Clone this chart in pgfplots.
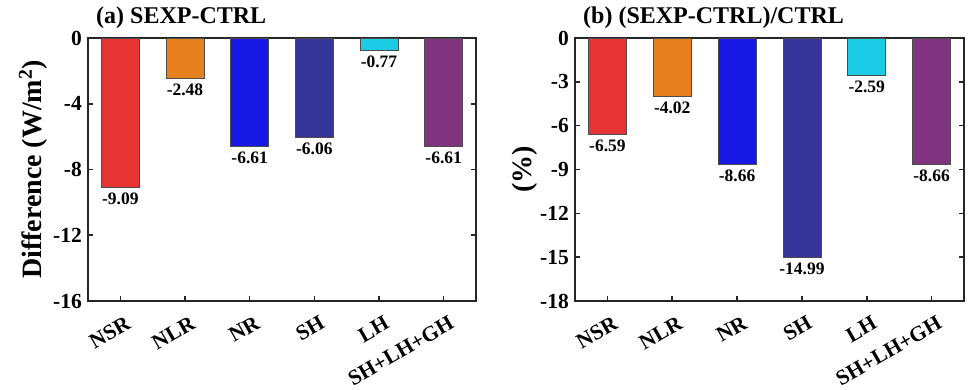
\documentclass[border=0pt]{standalone}
\usepackage{fontspec}
\setmainfont{Liberation Serif}
\usepackage{pgfplots}
\pgfplotsset{compat=1.18}
\definecolor{cA}{HTML}{E63434}
\definecolor{cB}{HTML}{E6801E}
\definecolor{cC}{HTML}{1919E6}
\definecolor{cD}{HTML}{343499}
\definecolor{cE}{HTML}{1CCCE6}
\definecolor{cF}{HTML}{80337F}
\definecolor{axc}{HTML}{262626}
\pgfplotsset{
  mybar/.style={
    scale only axis, height=263pt,
    ybar, bar width=38pt, bar shift=0pt,
    xmin=-0.5, xmax=5.5, xtick={0,1,2,3,4,5},
    xticklabels={NSR,NLR,NR,SH,LH,SH+LH+GH},
    xtick pos=bottom, ytick pos=both, tick align=inside,
    major tick length=5pt,
    axis line style={line width=1.6pt, color=axc},
    every tick/.style={line width=1.6pt, color=axc},
    /pgf/number format/assume math mode=true,
    tick label style={font=\fontsize{21.5}{24}\selectfont\bfseries, color=black},
    xticklabel style={inner sep=0pt, xshift=4.5pt, yshift=-14pt, rotate=30, anchor=north east},
    yticklabel style={inner sep=0pt, xshift=-6pt},
    title style={at={(axis description cs:0,1)}, anchor=base west, xshift=8pt, yshift=9pt, inner sep=0pt, font=\fontsize{24}{28}\selectfont\bfseries},
    ylabel style={anchor=center, font=\fontsize{28}{32}\selectfont\bfseries},
    every axis plot/.append style={draw=black!70, line width=0.8pt},
    nodes near coords={\pgfmathprintnumber[fixed,fixed zerofill,precision=2,assume math mode=true]{\pgfplotspointmeta}},
    every node near coord/.append style={font=\fontsize{17.5}{20}\selectfont\bfseries, anchor=north, inner sep=0pt, yshift=-5pt, text=black},
  }
}
\begin{document}
\begin{tikzpicture}
\useasboundingbox (0,0) rectangle (969pt,389pt);
\begin{axis}[mybar, at={(88pt,88pt)}, anchor=south west, width=388pt,
  ymin=-16, ymax=0, ytick={-16,-12,-8,-4,0},
  title={(a) SEXP-CTRL},
  ylabel={Difference (W/m\textsuperscript{2})},
  ylabel style={at={(axis description cs:-0.1418,0.5)}}]
\addplot[fill=cA] coordinates {(0,-9.09)};
\addplot[fill=cB] coordinates {(1,-2.48)};
\addplot[fill=cC] coordinates {(2,-6.61)};
\addplot[fill=cD] coordinates {(3,-6.06)};
\addplot[fill=cE] coordinates {(4,-0.77)};
\addplot[fill=cF] coordinates {(5,-6.61)};
\end{axis}
\begin{axis}[mybar, at={(575pt,88pt)}, anchor=south west, width=389pt,
  ymin=-18, ymax=0, ytick={-18,-15,-12,-9,-6,-3,0},
  title={(b) (SEXP-CTRL)/CTRL},
  ylabel={(\%)},
  ylabel style={at={(axis description cs:-0.1285,0.5)}}]
\addplot[fill=cA] coordinates {(0,-6.59)};
\addplot[fill=cB] coordinates {(1,-4.02)};
\addplot[fill=cC] coordinates {(2,-8.66)};
\addplot[fill=cD] coordinates {(3,-14.99)};
\addplot[fill=cE] coordinates {(4,-2.59)};
\addplot[fill=cF] coordinates {(5,-8.66)};
\end{axis}
\end{tikzpicture}
\end{document}
